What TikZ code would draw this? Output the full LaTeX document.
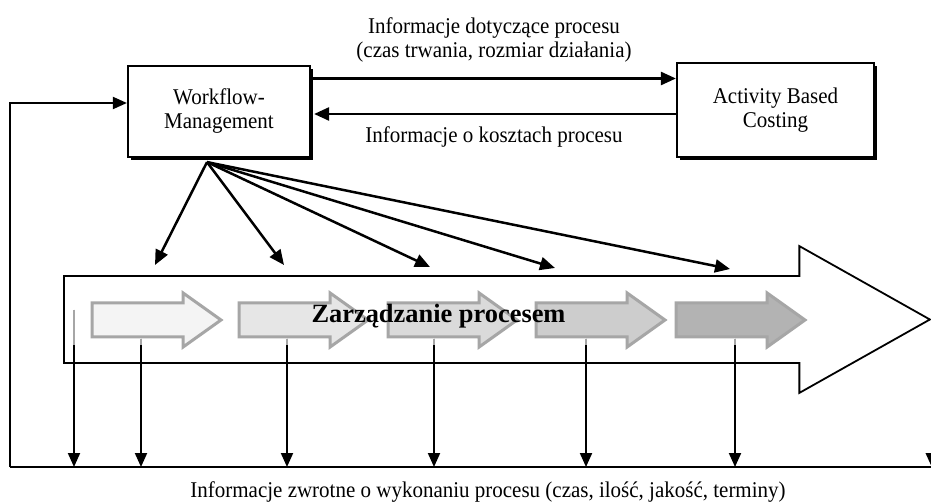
\documentclass[tikz,border=0pt]{standalone}
\usepackage{fontspec}
\setmainfont[FakeStretch=0.933]{Liberation Serif}
\newfontfamily\titlefont{Liberation Serif}
\usepackage{tikz}
\usetikzlibrary{calc}
\usetikzlibrary{arrows.meta}
\usetikzlibrary{shapes.arrows}
\usetikzlibrary{shadows}

\definecolor{stepA}{HTML}{F4F4F4}
\definecolor{stepB}{HTML}{E6E6E6}
\definecolor{stepC}{HTML}{DADADA}
\definecolor{stepD}{HTML}{CDCDCD}
\definecolor{stepE}{HTML}{B3B3B3}
\definecolor{stepline}{HTML}{A6A6A6}

\begin{document}
\begin{tikzpicture}[x=1pt,y=-1pt,
        txt/.style={font=\fontsize{22.5}{24}\selectfont,align=center,inner sep=0pt},
        box/.style={draw=black,line width=2.2pt,fill=white,txt,
            drop shadow={shadow xshift=3pt,shadow yshift=-3pt,fill=black,opacity=1}},
        conn/.style={line width=2.5pt,-{Triangle[length=15pt,width=13pt]}},
        fb/.style={line width=2pt,-{Triangle[length=14pt,width=12pt]}},
        faded/.style={draw=stepline,line width=2pt},
        chev/.style={single arrow,draw=stepline,line width=3pt,minimum height=129pt,
            inner xsep=0pt,inner ysep=15.5pt,single arrow head extend=10pt,
            single arrow tip angle=71,single arrow head indent=0pt,anchor=tail}]
            \useasboundingbox (0,0) rectangle (931,502);

            % Place the two boxes
            \node[box,minimum width=182pt,minimum height=91pt] (wf) at (219,111.5) {Workflow-\\Management};
            \node[box,minimum width=197pt,minimum height=94pt] (abc) at (775.5,110) {Activity Based\\Costing};

            % Place the texts
            \node[txt] (info) at (494,39.5) {Informacje dotyczące procesu\\(czas trwania, rozmiar działania)};
            \node[txt] (cost) at (494,137) {Informacje o kosztach procesu};
            \node[txt] (back) at (488,492) {Informacje zwrotne o wykonaniu procesu (czas, ilość, jakość, terminy)};

            % The big arrow and the steps in it
            \node[single arrow,draw=black,line width=1.8pt,fill=white,minimum height=866pt,
                inner xsep=0pt,inner ysep=42.5pt,single arrow head extend=30pt,
                single arrow tip angle=58.7,single arrow head indent=0pt,anchor=tail] (proc) at (63,319.5) {};
            \node[chev,fill=stepA] (a1) at (90.5,320) {};
            \node[chev,fill=stepB] (a2) at (237.5,320) {};
            \node[chev,fill=stepC] (a3) at (386.5,320) {};
            \node[chev,fill=stepD] (a4) at (534.5,320) {};
            \node[chev,fill=stepE] (a5) at (674.5,320) {};
            \node[font=\titlefont\bfseries\fontsize{26.4}{28}\selectfont,inner sep=0pt,anchor=base] (title) at (438.5,323) {Zarządzanie procesem};

            % Some points
            \coordinate (bl) at (9.5,467);
            \coordinate (br) at (931,467);
            \coordinate (fade) at (0,345);
            \coordinate (s0) at (74,310);
            \coordinate (e0) at (74,467);
            \coordinate (e1) at (141,467);
            \coordinate (e2) at (287,467);
            \coordinate (e3) at (434,467);
            \coordinate (e4) at (586,467);
            \coordinate (e5) at (735,467);
            \coordinate (e6) at (proc.tip |- bl);
            \coordinate (fan) at ([xshift=-12pt,yshift=-4pt]wf.south);
            \coordinate (t1) at (155,265);
            \coordinate (t2) at (284,265);
            \coordinate (t3) at (430,267);
            \coordinate (t4) at (555,268);
            \coordinate (t5) at (730,269);

            % The lines!
            \draw[conn] ([yshift=33pt]wf.east) -- ([yshift=33pt]wf.east -| abc.west);
            \draw[conn] ([yshift=-4pt]abc.west) -- ([yshift=-4pt,xshift=3pt]abc.west -| wf.east);
            \draw[line width=2.5pt] (bl) -- (br);
            \draw[fb] (bl) |- ([yshift=8.5pt]wf.west);
            \draw[conn] (fan) -- (t1);
            \draw[conn] (fan) -- (t2);
            \draw[conn] (fan) -- (t3);
            \draw[conn] (fan) -- (t4);
            \draw[conn] (fan) -- (t5);

            % Feedback from the steps
            \draw[fb] (s0) -- (e0);
            \draw[fb] (a1.south -| e1) -- (e1);
            \draw[fb] (a2.south -| e2) -- (e2);
            \draw[fb] (a3.south -| e3) -- (e3);
            \draw[fb] (a4.south -| e4) -- (e4);
            \draw[fb] (a5.south -| e5) -- (e5);
            \draw[fb] (proc.tip) -- (e6);
            \draw[faded] (s0) -- (fade -| e0);
            \draw[faded] (a1.south -| e1) -- (fade -| e1);
            \draw[faded] (a2.south -| e2) -- (fade -| e2);
            \draw[faded] (a3.south -| e3) -- (fade -| e3);
            \draw[faded] (a4.south -| e4) -- (fade -| e4);
            \draw[faded] (a5.south -| e5) -- (fade -| e5);
        \end{tikzpicture}
\end{document}
